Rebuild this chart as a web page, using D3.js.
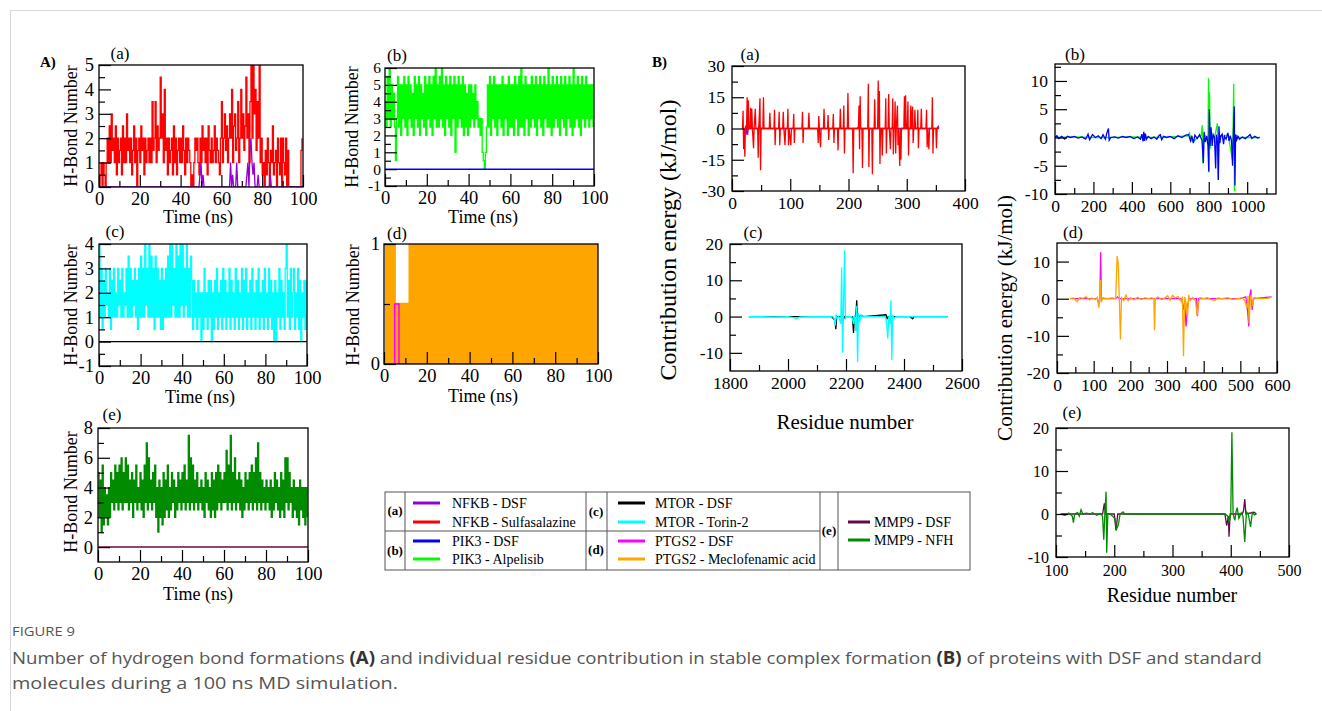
<!DOCTYPE html>
<html><head><meta charset="utf-8">
<script src="https://cdn.jsdelivr.net/npm/d3@7"></script>
<style>body{margin:0;background:#fff}svg{display:block}</style>
</head><body>
<svg id="c" width="1322" height="711"></svg>
<script>
// ---------- DATA ----------
// A(a) NFKB, H-bond number every 0.5 ns
const nfkbSulfHB = [0,0.5,1,0,1,0.5,0,1,2,1, 2.5,1,3,1.5,2,1,2.5,0.5,2,1, 1.5,2,0.5,2.5,1,2,1,3,1.5,2, 1,2,0.5,1.5,2.5,1,2,0,1.5,2,
 1,2.5,1.5,2,0.5,2,1,1.5,2,1, 2,1,3.5,1.5,2,3.5,1,2.5,1.5,2, 4.5,2,3,1,4,1.5,2,0.5,2,1, 1.5,2,0.5,2.5,1,2,0.5,1.5,2,1,
 2,1,2.5,1.5,0.5,2,1,2,1.5,1, 0,0.5,0,1,2,1.5,2,1,0.5,2, 1,2.5,1.5,2,1,2,0.5,2.5,1.5,1, 2,1,1.5,2.5,1,2,1.5,1,0.5,2,
 3.5,1,2,3,1.5,2.5,1,2,3,2, 4,1,2.5,3,1.5,2,3.5,1,2,4, 2,3,1.5,2.5,4.5,2,3,1,3.5,5, 2,5,3,4,1.5,3.5,2,5,1,2,
 0.5,1,0,1.5,0.5,2,1,0,1.5,1, 2.5,0.5,1,1.5,0,2,1,0.5,2,0, 2,1,0.5,2,0,1.5,0,0,0,0, 0,0,0,0,0,0,0,0,1.5,2];
const nfkbDsfHB = [[0,0],[49,0],[49.5,0.5],[50,1],[50.5,0],[51,0.5],[51.5,0],[64,0],[64.5,1],[65,0],[65.5,0.5],[66,0],[67,0],[67.5,1],[68,0],
 [72,0],[72.5,0.5],[73,1],[73.5,0],[74,1.5],[74.5,2],[75,1],[75.5,0.5],[76,1],[76.5,0],[77.5,0],[78,0.5],[78.5,0],[83.5,0],[84,0.5],[84.5,0],[100,0]];
// A(b) PIK3
const pik3AlpHB = [4,2.5,5.5,3,6,2.5,5,3,4.5,2.5, 0.5,3,5.5,2.5,5,2,5,3,5.5,2.5, 5,2,5.5,3,5,2.5,4.5,2,5.5,3, 5,2.5,5.5,2,5,3,4.5,2.5,5.5,2,
 5,3,5.5,2.5,5,2,5.5,3,6,2.5, 5,2.5,5.5,3,6,2.5,5,2,5.5,3, 5,2.5,5.5,2,5,3,5.5,1,5,2.5, 5.5,3,5,2.5,5.5,2,5,2.5,4.5,2,
 5,2.5,5,3,4.5,2.5,5,3,4,2.5, 3,2,3,1,0.5,0,1,2.5,5,2.5, 5.5,2,5,3,5.5,2.5,5,2,5,3, 5,2.5,5.5,2,5,3,5,2,5.5,2.5,
 5,2.5,5,2,5.5,3,5,2,5.5,2.5, 6,2.5,5,2,5.5,3,5,2,5,2.5, 5.5,3,5,2.5,5.5,2,5,3,5.5,2.5, 5,2,5.5,3,5,2.5,6,2.5,5,2,
 5.5,2.5,5,3,5.5,2.5,5,2,5.5,3, 5,2.5,5.5,2,5,3,5.5,2.5,5,2, 6,2.5,5,3,5.5,2.5,5,2,5.5,3, 5,2.5,5.5,3,5,2.5,5,3,5,2.5];
const pik3DsfHB = [[0,0],[100,0]];
// A(c) MTOR
const mtorTorHB = [4,1,3,0.5,2.5,1,3,1.5,2,1, 3,0.5,2.5,1,3,1,2,1,3,1.5, 2.5,1,3,1,2,1.5,3,1,3.5,1, 3,1,2.5,1.5,3,1,2.5,0.5,3,1,
 3.5,1,3,1,4,1.5,3,1,4,1, 3.5,1,3,0.5,3.5,1,3,1,2.5,0.5, 3,0.5,2.5,1,3,1,3.5,1,4,1, 4,1.5,3,1,4,1,3.5,1,4,1.5,
 4,1,3,1.5,4,1,3,1,3.5,2.5, 0.5,2.5,1,2,0.5,2.5,1,2,0,2, 0.5,3,1,2,0.5,2.5,1,2.5,0,2, 0.5,2.5,1,3,0.5,2,1,2.5,0.5,3,
 1,2.5,0.5,2,1,3,0.5,2.5,1,2, 0.5,3,1,2.5,0.5,2,1,3,0.5,2.5, 1,3,0.5,2,1,2.5,0.5,3,1,2, 0.5,2.5,1,3,0.5,2,1,2.5,0.5,3,
 1,2,0.5,3,1,2.5,0.5,2,0,2.5, 0,2,1,3,0.5,2.5,1,2,0.5,3, 4,1,2.5,0.5,3,1,2,3,0.5,2, 1,3,0.5,2.5,0,2,1,2.5,0.5,2.5];
const mtorDsfHB = [[0,0],[100,0]];
// A(d) PTGS2, every 1 ns
const ptgsMecHB = [1,0,1,0,1,0,0.5,0,0.5,0,0.5,0,1,0,1,0,1,0,1,0, 1,0,1,0,1,0,1,0,1,0, 1,0,1,0,1,0,1,0,1,0, 1,0,1,0,1,0,1,0,1,0,
 1,0,1,0,1,0,1,0,1,0, 1,0,1,0,1,0,1,0,1,0, 1,0,1,0,1,0,1,0,1,0, 1,0,1,0,1,0,1,0,1,0, 1,0,1,0,1,0,1,0,1,0, 1];
const ptgsDsfHB = [[0,0],[5,0.5],[6,0.5],[7,0],[8,0],[100,0]];
// A(e) MMP9
const mmp9NfhHB = [5,2,4.5,1,5.5,1.5,4,2,3.5,1.5, 4,2,5,3,4.5,2.5,5.5,3,5,2.5, 5.5,3,6,2.5,5,3,6,3,5.5,2.5, 4.5,3,5,2,4.5,3,5.5,2.5,4,3,
 5,2.5,4.5,2,5.5,3,7,2.5,6,3, 4.5,2.5,5,3,5.5,2,4,1,4.5,2, 4,1.5,5,2,4.5,2.5,5.5,2,4,2.5, 5,3,4.5,2,4,2.5,5,3,4.5,2.5,
 5,3,5.5,2.5,4.5,3,7.5,2.5,6,3, 5.5,2.5,4.5,3,5,2.5,4,3,4.5,2.5, 4,2,5,3,4.5,2.5,4,2,5,2.5, 4.5,2,5,2.5,5.5,3,5,2.5,4.5,3,
 5,3,6.5,2.5,5.5,3,7.5,2.5,5,3, 6,2.5,4.5,3,5,2.5,4.5,2,4,2.5, 5,3,4.5,2.5,5,3,5.5,2.5,5,3, 6,2.5,7,3,5,2.5,4.5,3,4,2.5,
 4.5,3,4,2.5,4.5,2,4,2.5,5,3, 4.5,2.5,4,2,5,2.5,4.5,2,6,3, 6,2.5,5,3,4,2,4.5,2.5,4,2, 4,1.5,4.5,2.5,4,2,4,1.5,4,2];
const mmp9DsfHB = [[0,0],[100,0]];

// B(a) NFKB residue contribution [residue, kJ/mol]
const nfkbSulfE = [[18,0],[19,8.5],[20,-10],[21,0],[22,-13.5],[23,0],[25,0],[26,15],[27,-3],[28,13.5],[29,0],[31,0],[32,10],[33,0],[34,9.5],[35,0],[37,-9.5],[38,0],[40,9.5],[41,0],[44,0],[45,-14],[46,0],[48,14.5],[49,-20],[50,0],[53,0],[54,15],[55,0],[64,0],[65,7.5],[66,0],[72,0],[73,9],[74,-8],[75,0],[80,0],[81,8],[82,-8],[83,0],[87,0],[88,8],[89,0],[91,-8],[92,0],[95,0],[96,9.5],[97,-8],[98,0],[101,-8],[102,0],[105,0],[106,7],[107,-7],[108,0],[120,0],[121,8],[122,-7],[123,0],[131,0],[132,7.5],[133,0],[147,0],[148,-7],[149,6],[150,0],[152,-9],[153,0],[157,0],[158,9.5],[159,0],[164,0],[165,6.5],[166,-5.5],[167,0],[173,0],[174,7],[175,-7],[176,0],[181,0],[182,-10.5],[183,0],[185,0],[186,9.5],[187,0],[191,0],[192,11],[193,-12],[194,0],[198,0],[199,17],[200,0],[207,0],[208,-21.5],[209,0],[217,0],[218,11],[219,-10],[220,15.5],[221,0],[223,0],[224,-19],[225,0],[233,0],[234,21.5],[235,-18.5],[236,0],[240,0],[241,-22],[242,0],[244,0],[245,14],[246,0],[250,0],[251,23],[252,0],[253,18],[254,-17],[255,0],[257,0],[258,-13],[259,0],[263,0],[264,14.5],[265,-12],[266,0],[268,0],[269,16.5],[270,0],[272,-10],[273,0],[275,0],[276,14.5],[277,-12.5],[278,0],[279,0],[280,13],[281,-12],[282,0],[284,11],[285,-8],[286,0],[288,-18],[289,0],[290,-15],[291,0],[295,0],[296,15.5],[297,0],[298,16],[299,0],[301,0],[302,13],[303,-13],[304,0],[306,0],[307,11],[308,0],[310,10.5],[311,-7],[312,0],[313,0],[314,9],[315,0],[318,0],[319,9],[320,-9.5],[321,0],[324,0],[325,9.5],[326,0],[333,0],[334,9],[335,-9],[336,0],[338,-10],[339,0],[343,0],[344,15],[345,-12],[346,0],[350,0],[351,-9.5],[352,0],[355,0]];
const nfkbDsfE = [[18,0],[23,0],[24,1.5],[25,-2],[26,-3],[27,-1],[28,0],[46,0],[47,2],[48,0],[150,0],[151,-0.5],[152,0],[215,0],[216,0.5],[217,0],[352,0],[354,1],[355,0]];
// B(b) PIK3
const pik3DsfE = [[0,0],[10,0.3],[20,-0.2],[35,0.2],[50,-0.3],[65,0.2],[80,0],[100,0.2],[120,-0.1],[140,0.1],[160,-0.3],[172,0.6],[180,-0.4],[195,0.5],[210,0],[225,0.3],[240,-0.2],[250,0.5],[262,-0.3],[270,0.8],[278,1.6],[282,-0.5],[290,0],[310,0.1],[330,-0.1],[350,0.2],[370,0],[390,0.2],[410,-0.2],[430,0.1],[445,-0.3],[452,0.6],[458,-0.7],[462,1],[466,-0.6],[470,0.7],[476,-0.3],[485,0.2],[500,-0.2],[515,0.1],[530,-0.3],[542,0.4],[548,0.5],[555,-0.4],[565,0.2],[580,0],[600,0.2],[620,-0.2],[640,0.3],[660,0],[680,0.4],[695,0.5],[705,-0.6],[712,0.3],[720,-1],[728,0.4],[740,-0.2],[752,0.5],[765,-0.5],[772,-4.5],[776,1],[782,-0.8],[790,0.3],[796,-1.5],[800,-6],[803,5],[807,-1.5],[812,1.8],[818,-1.5],[823,0.5],[830,0],[836,-5.5],[840,0.5],[846,-1],[850,-7.5],[853,2],[858,-1],[863,0.3],[870,0.6],[877,-1.2],[882,0.2],[890,-0.3],[900,0.8],[906,-0.6],[912,0.3],[918,-0.5],[924,-5],[928,0.4],[933,5.5],[936,-8.5],[940,0.5],[946,-0.4],[952,0.2],[960,-0.3],[975,0.1],[990,-0.2],[1005,0.2],[1015,0.5],[1025,-0.2],[1040,0.2],[1055,-0.1],[1065,0]];
const pik3AlpE = [[0,0],[100,0.1],[200,0],[300,0],[400,0.1],[500,0],[600,0.1],[690,0.3],[700,0.8],[708,-0.5],[720,-0.8],[740,0],[760,0.3],[766,2.2],[770,-4.6],[775,0.5],[790,0],[796,-1],[799,10.5],[801,-6.2],[804,8],[808,-2],[812,0.5],[830,0],[845,2.5],[849,-7.4],[855,0],[900,0.5],[924,-4],[930,9.5],[934,-9.5],[938,0.5],[960,0],[1065,0]];
// B(c) MTOR
const mtorTorE = [[1865,0],[1900,0],[1950,-0.1],[2000,0],[2020,-0.3],[2030,-0.7],[2040,-0.1],[2080,0],[2120,0],[2155,0],[2160,-0.8],[2163,-2.5],[2166,0.6],[2170,-0.5],[2175,0],[2182,-2],[2185,13.5],[2188,-10],[2191,0.5],[2195,18.3],[2198,-0.5],[2202,0],[2220,0],[2226,-2],[2230,0.5],[2234,-4],[2237,3],[2240,-12.5],[2243,1],[2247,-1.5],[2252,0.5],[2258,0],[2300,0],[2335,0],[2340,-1.5],[2344,-6],[2348,0.3],[2352,-2],[2355,4.5],[2358,-12],[2361,0.5],[2366,-0.5],[2372,0],[2430,0],[2500,0],[2550,0]];
const mtorDsfE = [[1865,0],[2000,0],[2150,0],[2162,-1],[2165,-3.5],[2168,0],[2185,0],[2190,-1],[2195,0],[2222,0],[2226,-4.5],[2229,0],[2234,0],[2237,4.5],[2240,-1.5],[2244,0],[2255,0.3],[2260,0],[2338,0.5],[2342,-0.5],[2346,0],[2420,0],[2430,-0.6],[2434,0],[2550,0]];
// B(d) PTGS2
const ptgsMecE = [[35,0],[45,0.2],[55,-0.8],[62,0.3],[70,0.1],[80,0.5],[88,-0.3],[95,0.2],[105,-0.2],[110,0.4],[114,-2.5],[117,0.5],[119,5],[121,-1],[125,0.3],[135,0],[150,0.2],[160,0],[164,11.5],[167,9.5],[170,0],[173,-11],[176,0.3],[182,-0.5],[188,1],[194,-0.6],[200,0.3],[210,-0.3],[220,0.4],[230,-0.2],[240,0.3],[250,0],[258,0.3],[264,0],[266,-8.5],[268,0],[275,0.5],[285,-0.3],[295,0.3],[302,0.8],[308,-0.4],[315,0.9],[322,0.2],[330,0.6],[336,-0.5],[342,0.3],[345,-15.5],[348,0.5],[352,-1],[356,-5],[359,1],[363,-0.5],[370,0.3],[378,-0.6],[382,-4.5],[386,-1],[390,0.3],[400,0],[410,0.3],[420,-0.2],[430,-0.5],[438,0.2],[450,0],[465,0.3],[480,-0.2],[495,0],[505,0.3],[512,-0.5],[518,-2.5],[521,0.8],[524,-6.5],[527,0.4],[530,1],[533,-2],[537,0.3],[545,0],[560,0],[575,0.1],[585,0.4]];
const ptgsDsfE = [[35,0],[60,0],[110,0],[115,-1.5],[117,0],[119,12.5],[121,0],[160,0],[165,0.5],[170,0],[200,0],[300,0],[340,0],[345,-3],[348,-1],[352,-7.5],[356,-2],[360,0],[380,0],[383,-4.7],[386,0],[440,0],[500,0],[515,0.5],[520,-3.5],[523,-7.5],[526,1],[529,2.5],[532,-3],[536,0],[585,0.5]];
// B(e) MMP9
const mmp9NfhE = [[108,0],[115,-0.3],[122,0.2],[128,-0.5],[130,-2],[132,0],[137,0.3],[140,-0.5],[143,1],[146,0],[152,0.2],[158,0],[163,0.3],[170,-0.3],[176,0.1],[180,-0.5],[182,-6],[184,0.5],[186,5.2],[187,-9],[189,0],[193,0],[197,-0.5],[201,-1],[204,-3.5],[207,-2.5],[210,0],[215,0.5],[218,0],[250,0],[300,0],[350,0],[390,0],[395,-0.5],[397,-2],[400,0],[402,19],[404,0],[407,-1.5],[409,0.5],[411,1.5],[414,-1],[418,0.3],[421,-0.5],[424,-6.5],[427,0.5],[430,0],[434,-3],[437,0.3],[441,-0.2],[444,0]];
const mmp9DsfE = [[108,0],[180,0],[183,2.5],[185,0],[200,0],[203,-3.8],[206,0],[390,0],[393,-2.7],[396,-0.5],[397,-5.3],[399,0],[420,0],[422,0.8],[424,3.5],[426,0],[440,0.4],[444,0]];

const legendRows = [
  {grp:'(a)', items:['NFKB - DSF','NFKB - Sulfasalazine']},
  {grp:'(b)', items:['PIK3 - DSF','PIK3 - Alpelisib']},
  {grp:'(c)', items:['MTOR - DSF','MTOR - Torin-2']},
  {grp:'(d)', items:['PTGS2 - DSF','PTGS2 - Meclofenamic acid']},
  {grp:'(e)', items:['MMP9 - DSF','MMP9 - NFH']}
];
const C = {violet:'#9400d3', red:'#ff0000', blue:'#0000ff', green:'#00ff00', black:'#000000', cyan:'#00ffff',
  magenta:'#ff00ff', orange:'#ffa500', maroon:'#670748', green4:'#008b00'};
const legendColors = [[C.violet,C.red],[C.blue,C.green],[C.black,C.cyan],[C.magenta,C.orange],[C.maroon,C.green4]];

// ---------- DRAWING ----------
const svg = d3.select('#c');
const serif = '"Liberation Serif","Times New Roman",Times,serif';
svg.append('rect').attr('width',1322).attr('height',711).attr('fill','#fff');
svg.append('line').attr('x1',10).attr('x2',1322).attr('y1',10.5).attr('y2',10.5).attr('stroke','#d9d9d9');
svg.append('line').attr('x1',10.5).attr('x2',10.5).attr('y1',10).attr('y2',711).attr('stroke','#d9d9d9');

const hbTime = d3.range(0, 100, 0.5);
const hbTime1 = d3.range(0, 101, 1);
const zipT = (t, v) => v.map((d, i) => [t[i], d]);
let clipN = 0;

function panel(o) {
  const g = svg.append('g');
  const x = d3.scaleLinear().domain(o.xd).range([o.l, o.r]);
  const y = d3.scaleLinear().domain(o.yd).range([o.b, o.t]);
  const id = 'clip' + (clipN++);
  svg.append('clipPath').attr('id', id).append('rect')
    .attr('x', o.l).attr('y', o.t).attr('width', o.r - o.l).attr('height', o.b - o.t);
  const lg = g.append('g').attr('clip-path', `url(#${id})`);
  o.series.forEach(s => {
    const line = d3.line().x(d => x(d[0])).y(d => y(d[1])).curve(s.curve || d3.curveLinear);
    lg.append('path').attr('d', line(s.data)).attr('fill', 'none')
      .attr('stroke', s.color).attr('stroke-width', s.w || 1.2).attr('stroke-linejoin','miter');
  });
  const fmt = d => String(d);
  const axB = g.append('g').attr('transform', `translate(0,${o.b})`)
    .call(d3.axisBottom(x).tickValues(o.xM).tickSizeInner(-12).tickSizeOuter(0).tickPadding(o.xpad).tickFormat(fmt));
  const axBm = g.append('g').attr('transform', `translate(0,${o.b})`)
    .call(d3.axisBottom(x).tickValues(o.xm).tickSizeInner(-6).tickSizeOuter(0).tickFormat(''));
  const axL = g.append('g').attr('transform', `translate(${o.l},0)`)
    .call(d3.axisLeft(y).tickValues(o.yM).tickSizeInner(-12).tickSizeOuter(0).tickPadding(o.ypad).tickFormat(fmt));
  const axLm = g.append('g').attr('transform', `translate(${o.l},0)`)
    .call(d3.axisLeft(y).tickValues(o.ym).tickSizeInner(-6).tickSizeOuter(0).tickFormat(''));
  [axB, axBm, axL, axLm].forEach(a => {
    a.select('.domain').remove();
    a.selectAll('line').attr('stroke', '#000').attr('stroke-width', 1.2);
    a.selectAll('text').attr('font-family', serif).attr('font-size', o.fs).attr('fill', '#000');
  });
  if (o.fsy) axL.selectAll('text').attr('font-size', o.fsy);
  g.append('rect').attr('x', o.l).attr('y', o.t).attr('width', o.r - o.l).attr('height', o.b - o.t)
    .attr('fill', 'none').attr('stroke', '#000').attr('stroke-width', 1.3);
  if (o.tag) g.append('text').attr('x', o.tag[0]).attr('y', o.tag[1]).attr('text-anchor', 'middle')
    .attr('font-family', serif).attr('font-size', 17).text(o.tag[2]);
  if (o.xl) g.append('text').attr('x', o.xl[0]).attr('y', o.xl[1]).attr('text-anchor', 'middle')
    .attr('font-family', serif).attr('font-size', o.xl[3]).text(o.xl[2]);
  if (o.yl) g.append('text').attr('transform', `translate(${o.yl[0]},${o.yl[1]}) rotate(-90)`).attr('text-anchor', 'middle')
    .attr('font-family', serif).attr('font-size', o.yl[3]).text(o.yl[2]);
}
const r = (a, b, s) => d3.range(a, b + s / 2, s);
const step = d3.curveStepAfter;

// ---- Panel A ----
const tA = {xd:[0,100], xM:r(0,100,20), xm:r(10,90,20), fs:18.5, xpad:5, ypad:5};
panel({...tA, l:99, t:65, r:303, b:187, yd:[0,5], yM:r(0,5,1), ym:r(0.5,4.5,1),
  series:[{data:zipT(hbTime,nfkbSulfHB), color:C.red, curve:step, w:1.3},{data:nfkbDsfHB, color:C.violet, w:1.3}],
  tag:[120,59,'(a)'], xl:[198,223,'Time (ns)',18], yl:[77,126,'H-Bond Number',18]});
panel({...tA, l:385, t:68, r:594, b:186, yd:[-1,6], yM:r(-1,6,1), ym:r(-0.5,5.5,1), ypad:4, fsy:15.5,
  series:[{data:zipT(hbTime,pik3AlpHB), color:C.green, curve:step, w:1.3},{data:pik3DsfHB, color:C.blue, w:1.5}],
  tag:[397,61,'(b)'], xl:[483,223,'Time (ns)',18], yl:[358,127,'H-Bond Number',18]});
panel({...tA, l:99, t:244, r:307, b:366, yd:[-1,4], yM:r(-1,4,1), ym:r(-0.5,3.5,1),
  series:[{data:zipT(hbTime,mtorTorHB), color:C.cyan, curve:step, w:1.3},{data:mtorDsfHB, color:C.black, w:1.3}],
  tag:[115,237,'(c)'], xl:[200,403,'Time (ns)',18], yl:[77,305,'H-Bond Number',18]});
panel({...tA, l:384, t:244, r:598, b:364, yd:[0,1], yM:[0,1], ym:[0.5], ypad:4,
  series:[{data:zipT(hbTime1,ptgsMecHB), color:C.orange, curve:step, w:2.4},
          {data:ptgsDsfHB, color:C.magenta, curve:step, w:1.5}],
  tag:[397,239,'(d)'], xl:[483,402,'Time (ns)',18], yl:[359,305,'H-Bond Number',18]});
panel({...tA, l:98, t:428, r:308, b:562, yd:[-1,8], yM:r(0,8,2), ym:r(1,7,2),
  series:[{data:zipT(hbTime,mmp9NfhHB), color:C.green4, curve:step, w:1.3},{data:mmp9DsfHB, color:C.maroon, w:1.5}],
  tag:[112,420,'(e)'], xl:[198,600,'Time (ns)',18], yl:[77,492,'H-Bond Number',18]});

// ---- Panel B ----
const fsB = 17.5;
panel({l:732, t:66, r:965, b:191, xd:[0,400], xM:r(0,400,100), xm:r(50,350,100), yd:[-30,30], yM:r(-30,30,15), ym:[-22.5,-7.5,7.5,22.5],
  fs:fsB, xpad:6, ypad:7,
  series:[{data:nfkbDsfE, color:C.violet, w:1.3},{data:nfkbSulfE, color:C.red, w:1.3}],
  tag:[750,60,'(a)']});
panel({l:730, t:244, r:962, b:371, xd:[1800,2600], xM:r(1800,2600,200), xm:r(1900,2500,200), yd:[-15,20], yM:r(-10,20,10), ym:[-5,5,15],
  fs:fsB, xpad:6, ypad:7,
  series:[{data:mtorDsfE, color:C.black, w:1.3},{data:mtorTorE, color:C.cyan, w:1.3}],
  tag:[753,238,'(c)'], xl:[845,429,'Residue number',21]});
panel({l:1055, t:64, r:1276, b:194, xd:[0,1150], xM:r(0,1000,200), xm:r(100,1100,200), yd:[-10,13], yM:r(-10,10,5), ym:[-7.5,-2.5,2.5,7.5,12.5],
  fs:fsB, xpad:6, ypad:7,
  series:[{data:pik3AlpE, color:C.green, w:1.3},{data:pik3DsfE, color:C.blue, w:1.3}],
  tag:[1075,60,'(b)']});
panel({l:1057, t:243, r:1277, b:373, xd:[0,600], xM:r(0,600,100), xm:r(50,550,100), yd:[-20,15], yM:r(-20,10,10), ym:[-15,-5,5],
  fs:fsB, xpad:6, ypad:7,
  series:[{data:ptgsDsfE, color:C.magenta, w:1.3},{data:ptgsMecE, color:C.orange, w:1.3}],
  tag:[1073,238,'(d)']});
panel({l:1056, t:428, r:1289, b:557, xd:[100,500], xM:r(100,500,100), xm:r(150,450,100), yd:[-10,20], yM:r(-10,20,10), ym:[-5,5,15],
  fs:16, xpad:8, ypad:7,
  series:[{data:mmp9DsfE, color:C.maroon, w:1.3},{data:mmp9NfhE, color:C.green4, w:1.3}],
  tag:[1072,418,'(e)'], xl:[1172,602,'Residue number',20]});

// shared y labels for B
const yLab = (x0, y0, fsz) => svg.append('text').attr('transform', `translate(${x0},${y0}) rotate(-90)`)
  .attr('text-anchor','middle').attr('font-family',serif).attr('font-size',fsz).text('Contribution energy (kJ/mol)');
yLab(676, 240, 24);
yLab(1012, 318, 21);

// section labels
svg.append('text').attr('x',40).attr('y',67).attr('font-family',serif).attr('font-weight','bold').attr('font-size',15).text('A)');
svg.append('text').attr('x',652).attr('y',67).attr('font-family',serif).attr('font-weight','bold').attr('font-size',15).text('B)');

// ---- legend ----
const L = svg.append('g').attr('font-family', serif).attr('font-size', 14);
const lx0 = 385, ly0 = 492, lx1 = 970, ly1 = 570;
L.append('rect').attr('x',lx0).attr('y',ly0).attr('width',lx1-lx0).attr('height',ly1-ly0).attr('fill','none').attr('stroke','#555').attr('stroke-width',1);
[405,586,607,820,838].forEach(xv => L.append('line').attr('x1',xv).attr('x2',xv).attr('y1',ly0).attr('y2',ly1).attr('stroke','#555'));
L.append('line').attr('x1',lx0).attr('x2',820).attr('y1',531).attr('y2',531).attr('stroke','#555');
const blocks = [
  {gx:395, gy:515, lx:413, tx:452, ys:[503,522]},
  {gx:395, gy:555, lx:413, tx:452, ys:[541,559]},
  {gx:596, gy:516, lx:618, tx:655, ys:[503,522]},
  {gx:596, gy:554, lx:618, tx:655, ys:[541,559]},
  {gx:829, gy:535, lx:848, tx:874, ys:[522,540]}
];
legendRows.forEach((row, i) => {
  const b = blocks[i];
  L.append('text').attr('x',b.gx).attr('y',b.gy).attr('text-anchor','middle').attr('font-weight','bold').attr('font-size',13).text(row.grp);
  row.items.forEach((it, j) => {
    L.append('line').attr('x1',b.lx).attr('x2',b.lx + (i===4?22:27)).attr('y1',b.ys[j]).attr('y2',b.ys[j])
      .attr('stroke',legendColors[i][j]).attr('stroke-width',3);
    L.append('text').attr('x',b.tx).attr('y',b.ys[j]+5).text(it);
  });
});

// ---- caption ----
const cap = svg.append('g').attr('font-family','"Open Sans","Noto Sans",sans-serif').attr('fill','#555');
cap.append('text').attr('x',12).attr('y',636).attr('font-size',13).attr('textLength',63).attr('lengthAdjust','spacingAndGlyphs').text('FIGURE 9');
const c1 = cap.append('text').attr('x',12).attr('y',664).attr('font-size',17).attr('textLength',1250).attr('lengthAdjust','spacingAndGlyphs');
c1.append('tspan').text('Number of hydrogen bond formations ');
c1.append('tspan').attr('font-weight','bold').attr('fill','#333').text('(A)');
c1.append('tspan').text(' and individual residue contribution in stable complex formation ');
c1.append('tspan').attr('font-weight','bold').attr('fill','#333').text('(B)');
c1.append('tspan').text(' of proteins with DSF and standard');
cap.append('text').attr('x',12).attr('y',689).attr('font-size',17).attr('textLength',386).attr('lengthAdjust','spacingAndGlyphs').text('molecules during a 100 ns MD simulation.');
</script>
</body></html>
